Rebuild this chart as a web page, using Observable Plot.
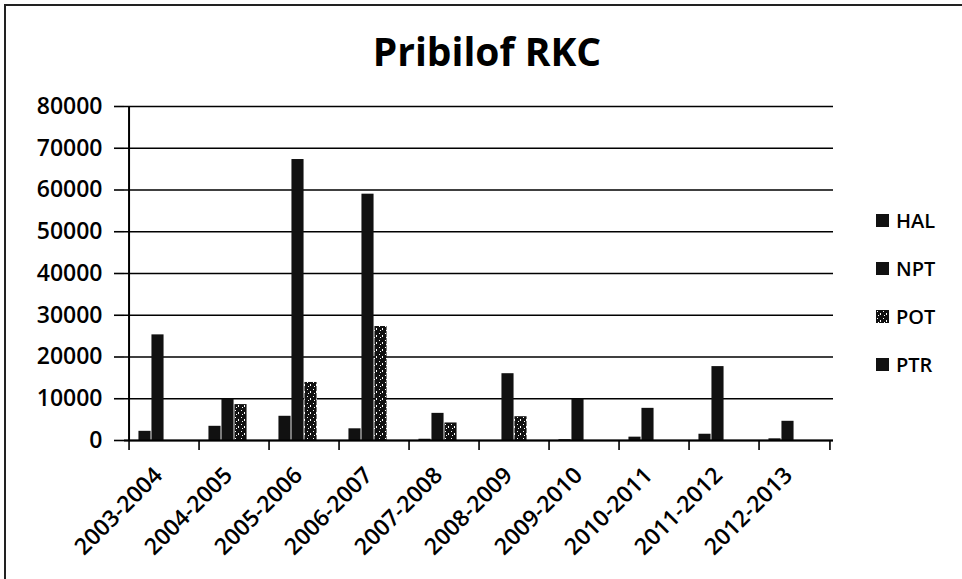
<!DOCTYPE html>
<html>
<head>
<meta charset="utf-8">
<script src="https://cdn.jsdelivr.net/npm/d3@7"></script>
<script src="https://cdn.jsdelivr.net/npm/@observablehq/plot@0.6"></script>
<style>
  html, body { margin: 0; padding: 0; background: #fff; }
  #wrap { position: relative; width: 962px; height: 579px; overflow: hidden; font-family: "Open Sans", sans-serif; color: #000; }
  #frame { position: absolute; left: 4px; top: 4px; width: 980px; height: 600px; border-left: 2px solid #222; border-top: 2px solid #222; pointer-events: none; }
  #title { position: absolute; left: 0; top: 0; width: 974px; height: 80px; text-align: center; font-size: 39px; font-weight: 700; line-height: 39px; padding-top: 31px; box-sizing: border-box; }
  #chart { position: absolute; left: 0; top: 80px; }
  #legend { position: absolute; left: 876px; top: 0; }
  .li { position: absolute; left: 0; width: 90px; height: 24px; display: flex; align-items: center; font-size: 20px; font-weight: 600; }
  .sw { width: 13px; height: 13px; margin-right: 7px; display: inline-block; }
</style>
</head>
<body>
<svg width="0" height="0" style="position:absolute">
  <defs>
    <pattern id="potPat" width="6" height="7" patternUnits="userSpaceOnUse">
      <rect width="6" height="7" fill="#111"></rect>
      <rect x="1" y="1" width="1" height="1" fill="#fff"></rect>
      <rect x="4" y="3" width="1" height="2" fill="#fff"></rect>
      <rect x="2" y="5" width="1" height="1" fill="#fff"></rect>
    </pattern>
  </defs>
</svg>
<div id="wrap">
  <div id="title">Pribilof RKC</div>
  <div id="chart"></div>
  <div id="legend"></div>
  <div id="frame"></div>
</div>
<script>
const seasons = ["2003-2004","2004-2005","2005-2006","2006-2007","2007-2008","2008-2009","2009-2010","2010-2011","2011-2012","2012-2013"];
const seriesNames = ["HAL","NPT","POT","PTR"];
const HAL = [2200, 3400, 5800, 2800, 300, 0, 200, 800, 1500, 400];
const NPT = [25300, 9900, 67300, 59000, 6500, 16000, 9900, 7700, 17700, 4600];
const POT = [0, 8600, 13900, 27300, 4200, 5700, 0, 0, 0, 0];
const PTR = [0, 0, 0, 0, 0, 0, 0, 0, 0, 0];
const yTicks = [0, 10000, 20000, 30000, 40000, 50000, 60000, 70000, 80000];

const seriesValues = {HAL, NPT, POT, PTR};
const fills = {HAL: "#111", NPT: "#111", POT: "url(#potPat)", PTR: "#111"};

const data = [];
seriesNames.forEach(s => seriesValues[s].forEach((v, i) => data.push({season: seasons[i], series: s, value: v})));

const width = 962, height = 499;
const mL = 124, mR = 129, mT = 26, mB = 139;
const step = (width - mL - mR) / seasons.length;
const bw = 13;
const pad = (step - seriesNames.length * bw) / 2;

const barMarks = seriesNames.map((s, k) => Plot.barY(data.filter(d => d.series === s), {
  x: "season", y: "value", fill: fills[s],
  insetLeft: pad + k * bw, insetRight: step - pad - (k + 1) * bw
}));

const plot = Plot.plot({
  width, height,
  marginLeft: mL, marginRight: mR, marginTop: mT, marginBottom: mB,
  style: {fontFamily: "Open Sans", fontWeight: 700, fontSize: "23px", color: "#000", background: "transparent", overflow: "visible"},
  x: {type: "band", domain: seasons, padding: 0, label: null},
  y: {domain: [0, 80000], label: null},
  marks: [
    Plot.gridY(yTicks, {stroke: "#000", strokeOpacity: 1, strokeWidth: 1.6}),
    ...barMarks,
    Plot.ruleY([0], {stroke: "#000", strokeWidth: 2}),
    Plot.ruleX([seasons[0]], {dx: -step / 2, y1: 0, y2: 80000, stroke: "#000", strokeWidth: 2}),
    Plot.axisY({ticks: yTicks, tickSize: 10, tickPadding: 12, tickFormat: d3.format("d"), fontSize: 23, fontWeight: 600, strokeWidth: 1.6, label: null}),
    Plot.axisX({ticks: seasons, tickSize: 10, dx: -step / 2, tickFormat: () => "", strokeWidth: 1.6, label: null}),
    Plot.axisX({ticks: [seasons[seasons.length - 1]], tickSize: 10, dx: step / 2, tickFormat: () => "", strokeWidth: 1.6, label: null}),
    Plot.axisX({ticks: seasons, tickSize: 0, tickPadding: 31, dx: -6, tickRotate: -45, fontSize: 23, fontWeight: 600, label: null})
  ]
});
document.getElementById("chart").appendChild(plot);

// legend
const legend = document.getElementById("legend");
const legendTops = [208, 256, 304, 352];
seriesNames.forEach((s, i) => {
  const item = document.createElement("div");
  item.className = "li";
  item.style.top = legendTops[i] + "px";
  const sw = document.createElementNS("http://www.w3.org/2000/svg", "svg");
  sw.setAttribute("width", 13); sw.setAttribute("height", 13);
  sw.setAttribute("class", "sw");
  const r = document.createElementNS("http://www.w3.org/2000/svg", "rect");
  r.setAttribute("width", 13); r.setAttribute("height", 13); r.setAttribute("fill", fills[s]);
  sw.appendChild(r);
  item.appendChild(sw);
  const t = document.createElement("span");
  t.textContent = s;
  item.appendChild(t);
  legend.appendChild(item);
});
</script>
</body>
</html>
